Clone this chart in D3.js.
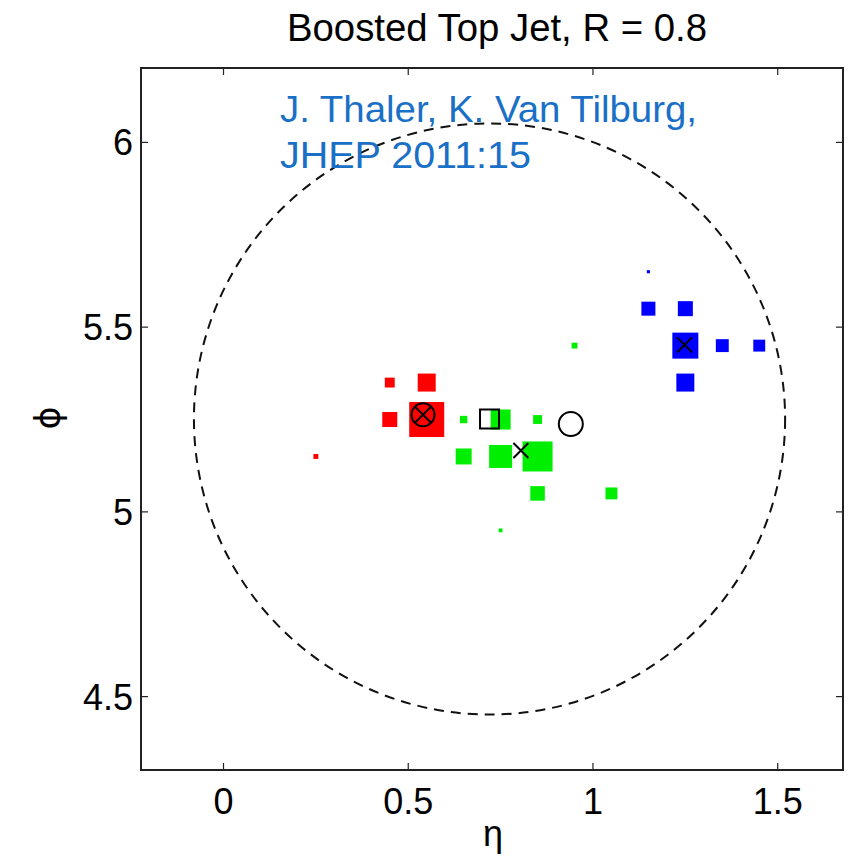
<!DOCTYPE html>
<html>
<head>
<meta charset="utf-8">
<script src="https://cdn.jsdelivr.net/npm/d3@7"></script>
<style>
  html, body { margin: 0; padding: 0; background: #fff; }
  svg { display: block; }
</style>
</head>
<body>
<svg id="chart" width="856" height="856"></svg>
<script>
// Calorimeter cells of one boosted top jet: [eta, phi, pT in GeV], grouped by subjet
const subjet1Cells = [
  [0.25, 5.15, 5],
  [0.45, 5.35, 20],
  [0.55, 5.35, 66],
  [0.45, 5.25, 46],
  [0.55, 5.25, 250]
];
const subjet2Cells = [
  [0.65, 5.25, 11],
  [0.75, 5.25, 82],
  [0.85, 5.25, 16],
  [0.65, 5.15, 52],
  [0.75, 5.15, 108],
  [0.85, 5.15, 184],
  [0.85, 5.05, 43],
  [1.05, 5.05, 29],
  [0.95, 5.45, 7],
  [0.75, 4.95, 3]
];
const subjet3Cells = [
  [1.15, 5.65, 2],
  [1.15, 5.55, 40],
  [1.25, 5.55, 46],
  [1.25, 5.45, 138],
  [1.35, 5.45, 34],
  [1.45, 5.45, 29],
  [1.25, 5.35, 66]
];
const subjetColors = ["#ff0000", "#00ee00", "#0000ff"];

// Axis markers: [eta, phi]
const jetAxis = [0.72, 5.2514];          // open square, centre of the R = 0.8 cone
const subjetAxisCircled = [0.54, 5.263]; // circled cross
const subjetAxesCross = [[0.805, 5.166], [1.248, 5.452]];
const openCircleAxis = [0.94, 5.238];
const jetRadius = 0.8;

const xTicks = [0, 0.5, 1, 1.5];
const yTicks = [4.5, 5, 5.5, 6];
const xDomain = [-0.2233, 1.6767];
const yDomain = [4.3014, 6.2014];

const titleText = "Boosted Top Jet, R = 0.8";
const creditLines = ["J. Thaler, K. Van Tilburg,", "JHEP 2011:15"];
const xLabel = "η";
const yLabel = "ϕ";

// Layout
const plot = { left: 141, top: 68, right: 843, bottom: 770 };
const svg = d3.select("#chart");
const font = "'Liberation Sans', Arial, Helvetica, sans-serif";

const x = d3.scaleLinear().domain(xDomain).range([plot.left, plot.right]);
const y = d3.scaleLinear().domain(yDomain).range([plot.bottom, plot.top]);
const side = d3.scaleSqrt().domain([0, 250]).range([0, 35]);

svg.append("defs").append("clipPath").attr("id", "plotClip")
  .append("rect")
  .attr("x", plot.left).attr("y", plot.top)
  .attr("width", plot.right - plot.left).attr("height", plot.bottom - plot.top);

const inner = svg.append("g").attr("clip-path", "url(#plotClip)");

// Jet cone
inner.append("ellipse")
  .attr("cx", x(jetAxis[0])).attr("cy", y(jetAxis[1]))
  .attr("rx", x(jetAxis[0] + jetRadius) - x(jetAxis[0]))
  .attr("ry", y(jetAxis[1]) - y(jetAxis[1] + jetRadius))
  .attr("fill", "none").attr("stroke", "#111").attr("stroke-width", 2)
  .attr("stroke-dasharray", "10,7");

// Cells as squares sized by sqrt(pT)
[subjet1Cells, subjet2Cells, subjet3Cells].forEach((cells, i) => {
  inner.append("g").selectAll("rect").data(cells).join("rect")
    .attr("x", d => x(d[0]) - side(d[2]) / 2)
    .attr("y", d => y(d[1]) - side(d[2]) / 2)
    .attr("width", d => side(d[2]))
    .attr("height", d => side(d[2]))
    .attr("fill", subjetColors[i]);
});

// Axis markers
const mk = inner.append("g").attr("fill", "none").attr("stroke", "#000").attr("stroke-width", 2);
function cross(cx, cy, h) {
  mk.append("path").attr("d", `M${cx - h},${cy - h}L${cx + h},${cy + h}M${cx - h},${cy + h}L${cx + h},${cy - h}`);
}
{
  const cx = x(subjetAxisCircled[0]), cy = y(subjetAxisCircled[1]);
  mk.append("circle").attr("cx", cx).attr("cy", cy).attr("r", 11.5);
  cross(cx, cy, 8.1);
}
subjetAxesCross.forEach(d => cross(x(d[0]), y(d[1]), 7.5));
mk.append("rect")
  .attr("x", x(jetAxis[0]) - 9.5).attr("y", y(jetAxis[1]) - 9.5)
  .attr("width", 19).attr("height", 19);
mk.append("circle").attr("cx", x(openCircleAxis[0])).attr("cy", y(openCircleAxis[1])).attr("r", 12);

// Frame and inward ticks on all four sides
const tickLen = 7;
const frame = svg.append("g").attr("stroke", "#222").attr("stroke-width", 2).attr("fill", "none");
frame.append("rect")
  .attr("x", plot.left).attr("y", plot.top)
  .attr("width", plot.right - plot.left).attr("height", plot.bottom - plot.top);
xTicks.forEach(t => {
  frame.append("line").attr("x1", x(t)).attr("x2", x(t)).attr("y1", plot.bottom).attr("y2", plot.bottom - tickLen).attr("stroke-width", 1.2);
  frame.append("line").attr("x1", x(t)).attr("x2", x(t)).attr("y1", plot.top).attr("y2", plot.top + tickLen).attr("stroke-width", 1.2);
});
yTicks.forEach(t => {
  frame.append("line").attr("y1", y(t)).attr("y2", y(t)).attr("x1", plot.left).attr("x2", plot.left + tickLen).attr("stroke-width", 1.2);
  frame.append("line").attr("y1", y(t)).attr("y2", y(t)).attr("x1", plot.right).attr("x2", plot.right - tickLen).attr("stroke-width", 1.2);
});

// Tick labels
const tickFmt = d3.format("~g");
svg.append("g").selectAll("text").data(xTicks).join("text")
  .attr("x", d => x(d)).attr("y", 814)
  .attr("text-anchor", "middle")
  .attr("font-family", font).attr("font-size", 36).attr("fill", "#000")
  .text(tickFmt);
svg.append("g").selectAll("text").data(yTicks).join("text")
  .attr("x", 133).attr("y", d => y(d) + 13)
  .attr("text-anchor", "end")
  .attr("font-family", font).attr("font-size", 36).attr("fill", "#000")
  .text(tickFmt);

// Axis titles
svg.append("text")
  .attr("x", 493).attr("y", 846)
  .attr("text-anchor", "middle")
  .attr("font-family", font).attr("font-size", 36).attr("fill", "#000")
  .text(xLabel);
svg.append("text")
  .attr("transform", "translate(60,418) rotate(-90)")
  .attr("text-anchor", "middle")
  .attr("font-family", "'DejaVu Sans', sans-serif").attr("font-size", 35).attr("fill", "#000")
  .text(yLabel);

// Title
svg.append("text")
  .attr("x", 287).attr("y", 41)
  .attr("textLength", 420).attr("lengthAdjust", "spacingAndGlyphs")
  .attr("font-family", font).attr("font-size", 38).attr("fill", "#000")
  .text(titleText);

// Credit
svg.append("text").attr("x", 280).attr("y", 122)
  .attr("textLength", 417).attr("lengthAdjust", "spacingAndGlyphs")
  .attr("font-family", font).attr("font-size", 37).attr("fill", "#1a6fc6")
  .text(creditLines[0]);
svg.append("text").attr("x", 280).attr("y", 168)
  .attr("textLength", 251).attr("lengthAdjust", "spacingAndGlyphs")
  .attr("font-family", font).attr("font-size", 37).attr("fill", "#1a6fc6")
  .text(creditLines[1]);
</script>
</body>
</html>
